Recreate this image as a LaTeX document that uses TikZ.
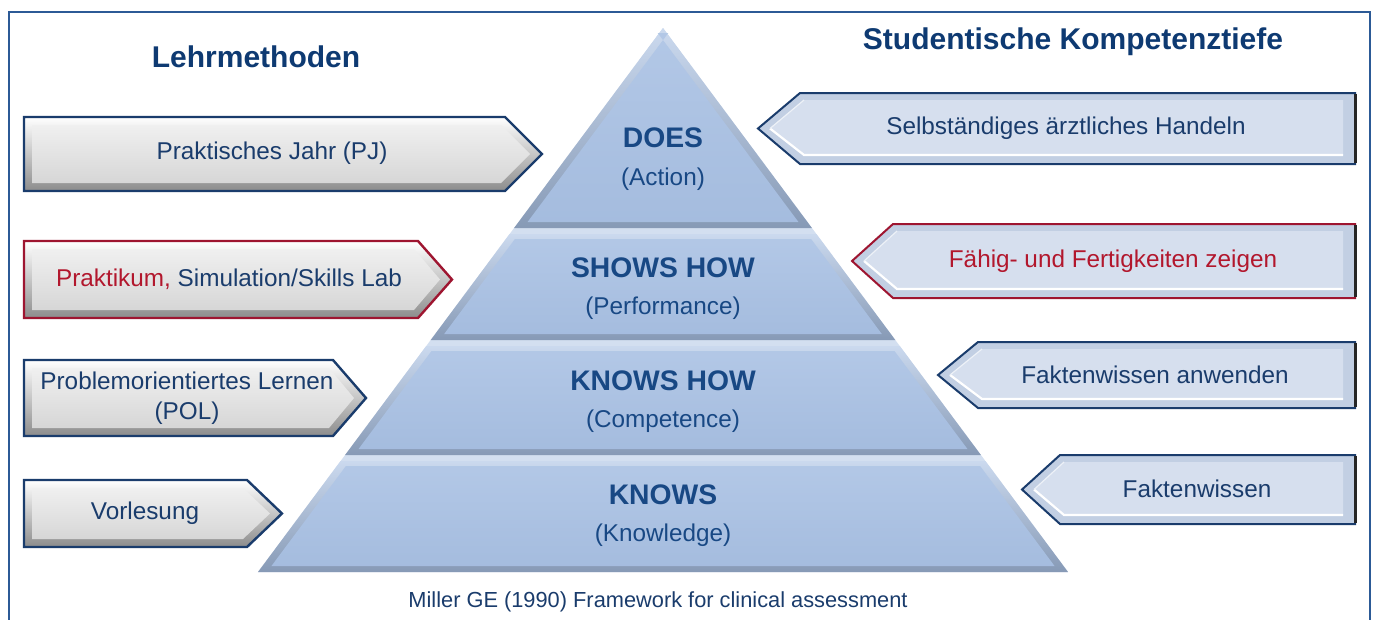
\documentclass[tikz,border=0pt]{standalone}
\usepackage{fontspec}
\setmainfont{Liberation Sans}
\definecolor{navy}{HTML}{1A3C6C}
\definecolor{titleblue}{HTML}{0E3A72}
\definecolor{pyrtext}{HTML}{184884}
\definecolor{framec}{HTML}{2C5A96}
\definecolor{redtext}{HTML}{B2172D}
\definecolor{redline}{HTML}{9E1530}
\definecolor{pyrface}{HTML}{A8C0E3}
\definecolor{pyrband}{HTML}{D3DFF0}
\definecolor{rface}{HTML}{D6DFEE}
\definecolor{rrim}{HTML}{C2CFE3}

% x position of the pyramid's left / right flank at height y
\newcommand\pyl[1]{{663-0.7445*((#1)-28)}}
\newcommand\pyr[1]{{663+0.7445*((#1)-28)}}

% one layer of the pyramid: top y, bottom y
\newcommand\pyrlayer[2]{%
  \shade[top color=pyrface!60!white, bottom color=pyrface!80!black]
    (\pyl{#1},#1) -- (\pyr{#1},#1) -- (\pyr{#2},#2) -- (\pyl{#2},#2) -- cycle;
  \shade[top color=pyrface!88!white, bottom color=pyrface!98!black]
    ({663-0.7445*((#1+5)-28)+9},#1+5) -- ({663+0.7445*((#1+5)-28)-9},#1+5)
    -- ({663+0.7445*((#2-6)-28)-9},#2-6) -- ({663-0.7445*((#2-6)-28)+9},#2-6) -- cycle;
}

% arrow pointing right: left x, body end x, tip x, top y, bottom y, rim colour
\newcommand\lbox[6]{%
  \shade[top color=white, bottom color=black!45]
    (#1,#4) -- (#2,#4) -- (#3,{(#4+#5)/2}) -- (#2,#5) -- (#1,#5) -- cycle;
  \shade[top color=black!6, bottom color=black!16]
    (#1+8,#4+8) -- (#2-4,#4+8) -- (#3-12,{(#4+#5)/2}) -- (#2-4,#5-8) -- (#1+8,#5-8) -- cycle;
  \draw[#6, line width=2.4, line join=miter]
    (#1,#4) -- (#2,#4) -- (#3,{(#4+#5)/2}) -- (#2,#5) -- (#1,#5) -- cycle;
}

% arrow pointing left: tip x, body start x, right x, top y, bottom y, rim colour
\newcommand\rbox[6]{%
  \fill[rrim] (#1,{(#4+#5)/2}) -- (#2,#4) -- (#3,#4) -- (#3,#5) -- (#2,#5) -- cycle;
  \fill[rface] (#1+12,{(#4+#5)/2}) -- (#2+4,#4+7) -- (#3-12,#4+7) -- (#3-12,#5-9) -- (#2+4,#5-9) -- cycle;
  \draw[white, line width=2.2] (#1+12,{(#4+#5)/2}) -- (#2+4,#5-9) -- (#3-12,#5-9);
  \draw[white!70!rrim, line width=1.2] (#1+12,{(#4+#5)/2}) -- (#2+4,#4+7);
  \draw[#6, line width=2, line join=miter]
    (#1,{(#4+#5)/2}) -- (#2,#4) -- (#3,#4) -- (#3,#5) -- (#2,#5) -- cycle;
  \draw[black!85, line width=3] (#3,#4+1) -- (#3,#5-1);
}

\tikzset{
  lefttext/.style={text=navy, font=\fontsize{24.3}{29.5}\selectfont, align=center},
  righttext/.style={text=navy, font=\fontsize{24.3}{29.5}\selectfont},
  levelname/.style={text=pyrtext, font=\bfseries\fontsize{28.3}{33}\selectfont},
  levelsub/.style={text=pyrtext, font=\fontsize{24.3}{29.5}\selectfont},
  heading/.style={text=titleblue, font=\bfseries\fontsize{30}{35}\selectfont},
}

\begin{document}
\begin{tikzpicture}[x=1pt, y=-1pt]
\useasboundingbox (0,0) rectangle (1375,619);
\fill[white] (0,0) rectangle (1375,619);

% outer frame
\draw[framec, line width=2] (9,625) -- (9,12) -- (1370,12) -- (1370,625);

% pyramid: light bands show between the layers
\fill[pyrband] (663,28) -- (1068,572) -- (258,572) -- cycle;
\pyrlayer{28}{228}
\pyrlayer{234}{340}
\pyrlayer{346}{455}
\pyrlayer{461}{572}

\node[levelname] (does)  at (663,138) {DOES};
\node[levelsub]  (doesS) at (663,179) {(Action)};
\node[levelname] (shows)  at (663,268) {SHOWS HOW};
\node[levelsub]  (showsS) at (663,308) {(Performance)};
\node[levelname] (knowshow)  at (663,381) {KNOWS HOW};
\node[levelsub]  (knowshowS) at (663,421) {(Competence)};
\node[levelname] (knows)  at (663,495) {KNOWS};
\node[levelsub]  (knowsS) at (663,535) {(Knowledge)};

% teaching methods
\node[heading] (lm) at (256,57) {Lehrmethoden};
\lbox{24}{505}{542}{117}{191}{navy}
\node[lefttext] (pj) at (272,153) {Praktisches Jahr (PJ)};
\lbox{24}{418}{452}{241}{318}{redline}
\node[lefttext] (pk) at (229,279) {\textcolor{redtext}{Praktikum,} Simulation/Skills Lab};
\lbox{24}{333}{366}{360}{436}{navy}
\node[lefttext] (pol) at (187,398) {Problemorientiertes Lernen\\(POL)};
\lbox{24}{247}{282}{480}{547}{navy}
\node[lefttext] (vl) at (145,513) {Vorlesung};

% depth of student competence
\node[heading] (sk) at (1073,42) {Studentische Kompetenztiefe};
\rbox{758}{800}{1355}{93}{164}{navy}
\node[righttext] (sh) at (1066,128) {Selbständiges ärztliches Handeln};
\rbox{852}{893}{1355}{224}{298}{redline}
\node[righttext, text=redtext] (ff) at (1113,261) {Fähig- und Fertigkeiten zeigen};
\rbox{938}{978}{1355}{342}{408}{navy}
\node[righttext] (fa) at (1155,375) {Faktenwissen anwenden};
\rbox{1022}{1060}{1355}{455}{524}{navy}
\node[righttext] (fw) at (1197,489) {Faktenwissen};

% source
\node[text=navy, font=\fontsize{21.8}{26}\selectfont] (src) at (658,602)
  {Miller GE (1990) Framework for clinical assessment};
\end{tikzpicture}
\end{document}
